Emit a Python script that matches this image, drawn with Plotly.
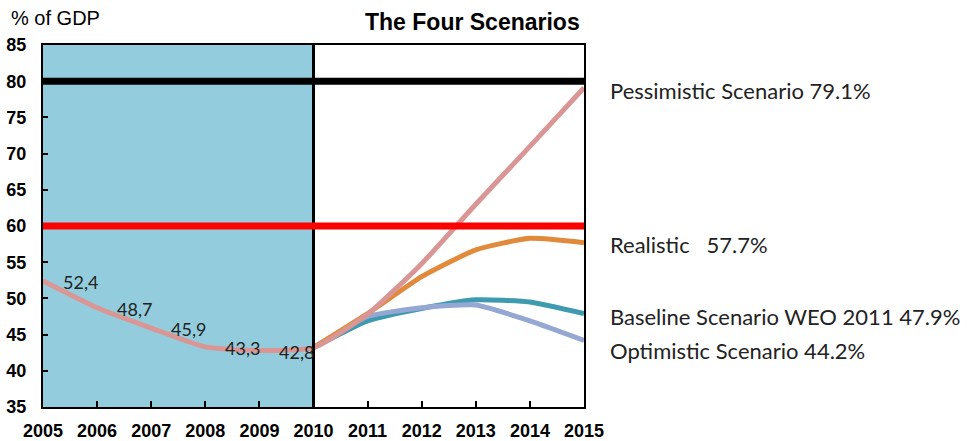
import plotly.graph_objects as go

# Public debt, % of GDP
hist_years = [2005, 2006, 2007, 2008, 2009, 2010]
hist_debt = [52.4, 48.7, 45.9, 43.3, 42.8, 43.2]

proj_years = [2010, 2011, 2012, 2013, 2014, 2015]
pessimistic = [43.2, 47.8, 54.8, 63.0, 71.0, 79.1]
realistic = [43.2, 47.9, 53.0, 56.7, 58.3, 57.7]
baseline = [43.2, 46.9, 48.6, 49.8, 49.5, 47.9]
optimistic = [43.2, 47.5, 48.7, 49.1, 46.9, 44.2]

threshold_high = 80
threshold_low = 60

x_ticks = list(range(2005, 2016))
y_ticks = list(range(35, 90, 5))

AXIS_FONT = "Liberation Sans, Arial, sans-serif"
NOTE_FONT = "Lato, Carlito, sans-serif"

PINK = "#D99694"
ORANGE = "#E18A3C"
TEAL = "#3D9AAF"
LAVENDER = "#95A8D4"

fig = go.Figure()

# scenario lines, drawn bottom to top
for ys, col in [(baseline, TEAL), (optimistic, LAVENDER), (realistic, ORANGE)]:
    fig.add_trace(go.Scatter(
        x=proj_years, y=ys, mode="lines",
        line=dict(color=col, width=5, shape="spline", smoothing=0.5),
        hoverinfo="skip", showlegend=False,
    ))

# history continued by the pessimistic path
pink_x = hist_years + proj_years[1:]
pink_y = hist_debt + pessimistic[1:]
fig.add_trace(go.Scatter(
    x=pink_x, y=pink_y, mode="lines",
    line=dict(color=PINK, width=5, shape="spline", smoothing=0.5),
    hoverinfo="skip", showlegend=False,
))

shapes = [
    # shaded history period
    dict(type="rect", xref="x", yref="y", x0=hist_years[0], x1=hist_years[-1],
         y0=y_ticks[0], y1=y_ticks[-1], fillcolor="#93CDDD", line_width=0, layer="below"),
    dict(type="line", xref="x", yref="y", x0=hist_years[-1], x1=hist_years[-1],
         y0=y_ticks[0], y1=y_ticks[-1], line=dict(color="black", width=3), layer="above"),
    dict(type="line", xref="x", yref="y", x0=x_ticks[0], x1=x_ticks[-1],
         y0=threshold_high, y1=threshold_high, line=dict(color="black", width=7)),
    dict(type="line", xref="x", yref="y", x0=x_ticks[0], x1=x_ticks[-1],
         y0=threshold_low, y1=threshold_low, line=dict(color="#FF0000", width=7)),
]

annotations = []
# value labels on the historical series (2005-2009)
for yr, v in zip(hist_years[:-1], hist_debt[:-1]):
    annotations.append(dict(
        x=yr, y=v, xref="x", yref="y", text=f"{v:.1f}".replace(".", ","),
        showarrow=False, xanchor="left", yanchor="middle", xshift=18, yshift=-1,
        font=dict(family=NOTE_FONT, size=18, color="#222222"),
    ))

end_labels = [
    (f"Pessimistic Scenario {pessimistic[-1]:.1f}%", pessimistic[-1], -3),
    (f"Realistic\u00a0\u00a0\u00a0{realistic[-1]:.1f}%", realistic[-1], -2),
    (f"Baseline Scenario WEO 2011 {baseline[-1]:.1f}%", baseline[-1], -3),
    (f"Optimistic Scenario {optimistic[-1]:.1f}%", optimistic[-1], -10),
]
for txt, v, ys in end_labels:
    annotations.append(dict(
        x=x_ticks[-1], y=v, xref="x", yref="y", text=txt, showarrow=False,
        xanchor="left", yanchor="middle", xshift=24, yshift=ys,
        font=dict(family=NOTE_FONT, size=22, color="#222222"),
    ))

annotations.append(dict(
    x=0, y=1.0, xref="paper", yref="paper", xanchor="left", yanchor="middle",
    text="% of GDP", showarrow=False, xshift=-34, yshift=27,
    font=dict(family=AXIS_FONT, size=20, color="black"),
))
annotations.append(dict(
    x=0.793, y=1.0, xref="paper", yref="paper", xanchor="center", yanchor="middle",
    text="<b>The Four Scenarios</b>", showarrow=False, yshift=23,
    font=dict(family=AXIS_FONT, size=23, color="black"),
))

fig.update_layout(
    width=967, height=441,
    margin=dict(l=43, r=383, t=45, b=34, autoexpand=False),
    paper_bgcolor="white", plot_bgcolor="white",
    shapes=shapes, annotations=annotations,
    showlegend=False,
    xaxis=dict(
        range=[x_ticks[0], x_ticks[-1]], tickvals=x_ticks, ticktext=[str(t) for t in x_ticks],
        showgrid=False, zeroline=False, showline=True, linecolor="black", linewidth=2,
        mirror=True, ticks="inside", ticklen=6, tickwidth=2, tickcolor="black",
        tickfont=dict(family=AXIS_FONT, size=18, color="black", weight="bold"),
        ticklabelstandoff=6,
    ),
    yaxis=dict(
        range=[y_ticks[0], y_ticks[-1]], tickvals=y_ticks,
        showgrid=False, zeroline=False, showline=True, linecolor="black", linewidth=2,
        mirror=True, ticks="inside", ticklen=5, tickwidth=2, tickcolor="black",
        tickfont=dict(family=AXIS_FONT, size=18, color="black", weight="bold"),
        ticklabelstandoff=11,
    ),
)

fig.write_html("out.html")
